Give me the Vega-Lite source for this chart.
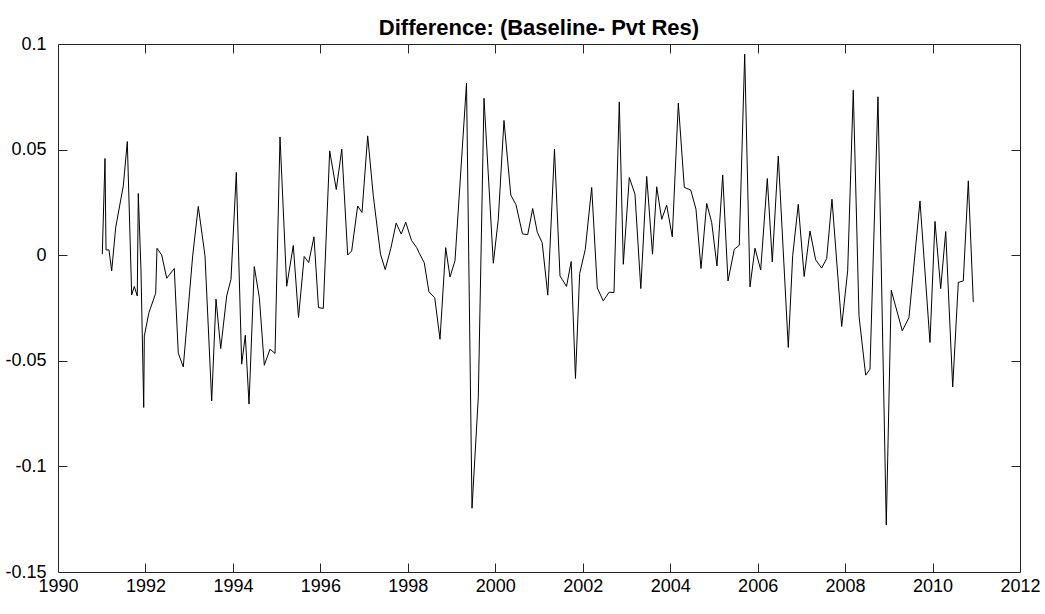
{
  "$schema": "https://vega.github.io/schema/vega-lite/v6.json",
  "width": 962,
  "height": 528,
  "autosize": "none",
  "padding": {"left": 58, "top": 44, "right": 25, "bottom": 42},
  "background": "white",
  "title": {"text": "Difference: (Baseline- Pvt Res)", "font": "Liberation Sans", "fontSize": 22, "fontWeight": "bold", "color": "black", "anchor": "middle", "offset": -5},
  "datasets": {"d": [
    {"year": 1991.013, "diff": 0.0005},
    {"year": 1991.075, "diff": 0.0458},
    {"year": 1991.098, "diff": 0.0025},
    {"year": 1991.166, "diff": 0.0025},
    {"year": 1991.228, "diff": -0.0074},
    {"year": 1991.319, "diff": 0.0131},
    {"year": 1991.493, "diff": 0.0328},
    {"year": 1991.585, "diff": 0.0538},
    {"year": 1991.685, "diff": -0.0188},
    {"year": 1991.745, "diff": -0.0148},
    {"year": 1991.813, "diff": -0.0193},
    {"year": 1991.836, "diff": 0.0292},
    {"year": 1991.898, "diff": -0.0071},
    {"year": 1991.960, "diff": -0.0721},
    {"year": 1991.974, "diff": -0.0382},
    {"year": 1992.081, "diff": -0.0271},
    {"year": 1992.234, "diff": -0.0180},
    {"year": 1992.264, "diff": 0.0033},
    {"year": 1992.371, "diff": 0.0001},
    {"year": 1992.486, "diff": -0.0109},
    {"year": 1992.659, "diff": -0.0063},
    {"year": 1992.751, "diff": -0.0464},
    {"year": 1992.865, "diff": -0.0529},
    {"year": 1993.080, "diff": -0.0003},
    {"year": 1993.208, "diff": 0.0231},
    {"year": 1993.362, "diff": -0.0003},
    {"year": 1993.515, "diff": -0.0690},
    {"year": 1993.613, "diff": -0.0208},
    {"year": 1993.721, "diff": -0.0442},
    {"year": 1993.858, "diff": -0.0193},
    {"year": 1993.956, "diff": -0.0114},
    {"year": 1994.078, "diff": 0.0392},
    {"year": 1994.201, "diff": -0.0516},
    {"year": 1994.284, "diff": -0.0379},
    {"year": 1994.368, "diff": -0.0705},
    {"year": 1994.489, "diff": -0.0054},
    {"year": 1994.604, "diff": -0.0200},
    {"year": 1994.718, "diff": -0.0521},
    {"year": 1994.848, "diff": -0.0445},
    {"year": 1994.963, "diff": -0.0465},
    {"year": 1995.077, "diff": 0.0560},
    {"year": 1995.230, "diff": -0.0147},
    {"year": 1995.381, "diff": 0.0046},
    {"year": 1995.500, "diff": -0.0295},
    {"year": 1995.630, "diff": -0.0006},
    {"year": 1995.733, "diff": -0.0035},
    {"year": 1995.854, "diff": 0.0087},
    {"year": 1995.957, "diff": -0.0248},
    {"year": 1996.067, "diff": -0.0252},
    {"year": 1996.213, "diff": 0.0494},
    {"year": 1996.364, "diff": 0.0311},
    {"year": 1996.490, "diff": 0.0502},
    {"year": 1996.625, "diff": 0.0001},
    {"year": 1996.716, "diff": 0.0020},
    {"year": 1996.853, "diff": 0.0233},
    {"year": 1996.952, "diff": 0.0202},
    {"year": 1997.082, "diff": 0.0565},
    {"year": 1997.210, "diff": 0.0282},
    {"year": 1997.375, "diff": 0.0005},
    {"year": 1997.483, "diff": -0.0068},
    {"year": 1997.611, "diff": 0.0032},
    {"year": 1997.734, "diff": 0.0152},
    {"year": 1997.849, "diff": 0.0100},
    {"year": 1997.952, "diff": 0.0156},
    {"year": 1998.084, "diff": 0.0070},
    {"year": 1998.203, "diff": 0.0036},
    {"year": 1998.263, "diff": 0.0009},
    {"year": 1998.375, "diff": -0.0035},
    {"year": 1998.484, "diff": -0.0174},
    {"year": 1998.615, "diff": -0.0201},
    {"year": 1998.736, "diff": -0.0398},
    {"year": 1998.866, "diff": 0.0036},
    {"year": 1998.965, "diff": -0.0103},
    {"year": 1999.079, "diff": -0.0026},
    {"year": 1999.342, "diff": 0.0814},
    {"year": 1999.468, "diff": -0.1198},
    {"year": 1999.612, "diff": -0.0672},
    {"year": 1999.742, "diff": 0.0743},
    {"year": 1999.955, "diff": -0.0038},
    {"year": 2000.069, "diff": 0.0170},
    {"year": 2000.199, "diff": 0.0638},
    {"year": 2000.355, "diff": 0.0285},
    {"year": 2000.474, "diff": 0.0239},
    {"year": 2000.622, "diff": 0.0101},
    {"year": 2000.741, "diff": 0.0097},
    {"year": 2000.856, "diff": 0.0221},
    {"year": 2000.961, "diff": 0.0109},
    {"year": 2001.073, "diff": 0.0059},
    {"year": 2001.201, "diff": -0.0189},
    {"year": 2001.354, "diff": 0.0502},
    {"year": 2001.480, "diff": -0.0098},
    {"year": 2001.629, "diff": -0.0148},
    {"year": 2001.736, "diff": -0.0030},
    {"year": 2001.834, "diff": -0.0584},
    {"year": 2001.930, "diff": -0.0087},
    {"year": 2002.058, "diff": 0.0027},
    {"year": 2002.205, "diff": 0.0321},
    {"year": 2002.333, "diff": -0.0155},
    {"year": 2002.470, "diff": -0.0216},
    {"year": 2002.605, "diff": -0.0175},
    {"year": 2002.715, "diff": -0.0177},
    {"year": 2002.836, "diff": 0.0726},
    {"year": 2002.928, "diff": -0.0043},
    {"year": 2003.065, "diff": 0.0368},
    {"year": 2003.195, "diff": 0.0289},
    {"year": 2003.328, "diff": -0.0158},
    {"year": 2003.463, "diff": 0.0373},
    {"year": 2003.596, "diff": 0.0005},
    {"year": 2003.692, "diff": 0.0324},
    {"year": 2003.806, "diff": 0.0170},
    {"year": 2003.920, "diff": 0.0237},
    {"year": 2004.048, "diff": 0.0087},
    {"year": 2004.186, "diff": 0.0720},
    {"year": 2004.323, "diff": 0.0321},
    {"year": 2004.469, "diff": 0.0309},
    {"year": 2004.590, "diff": 0.0218},
    {"year": 2004.705, "diff": -0.0063},
    {"year": 2004.835, "diff": 0.0245},
    {"year": 2004.949, "diff": 0.0155},
    {"year": 2005.070, "diff": -0.0051},
    {"year": 2005.201, "diff": 0.0380},
    {"year": 2005.322, "diff": -0.0122},
    {"year": 2005.466, "diff": 0.0028},
    {"year": 2005.580, "diff": 0.0047},
    {"year": 2005.704, "diff": 0.0952},
    {"year": 2005.825, "diff": -0.0150},
    {"year": 2005.939, "diff": 0.0033},
    {"year": 2006.070, "diff": -0.0070},
    {"year": 2006.221, "diff": 0.0363},
    {"year": 2006.335, "diff": -0.0032},
    {"year": 2006.472, "diff": 0.0470},
    {"year": 2006.701, "diff": -0.0437},
    {"year": 2006.801, "diff": -0.0003},
    {"year": 2006.929, "diff": 0.0241},
    {"year": 2007.064, "diff": -0.0101},
    {"year": 2007.197, "diff": 0.0115},
    {"year": 2007.327, "diff": -0.0022},
    {"year": 2007.464, "diff": -0.0061},
    {"year": 2007.579, "diff": -0.0016},
    {"year": 2007.700, "diff": 0.0265},
    {"year": 2007.922, "diff": -0.0338},
    {"year": 2008.059, "diff": -0.0074},
    {"year": 2008.187, "diff": 0.0781},
    {"year": 2008.318, "diff": -0.0287},
    {"year": 2008.471, "diff": -0.0568},
    {"year": 2008.569, "diff": -0.0540},
    {"year": 2008.752, "diff": 0.0750},
    {"year": 2008.942, "diff": -0.1278},
    {"year": 2009.056, "diff": -0.0166},
    {"year": 2009.308, "diff": -0.0358},
    {"year": 2009.461, "diff": -0.0295},
    {"year": 2009.713, "diff": 0.0257},
    {"year": 2009.941, "diff": -0.0413},
    {"year": 2010.056, "diff": 0.0160},
    {"year": 2010.186, "diff": -0.0158},
    {"year": 2010.301, "diff": 0.0112},
    {"year": 2010.461, "diff": -0.0624},
    {"year": 2010.589, "diff": -0.0129},
    {"year": 2010.703, "diff": -0.0122},
    {"year": 2010.818, "diff": 0.0352},
    {"year": 2010.932, "diff": -0.0221}
  ]},
  "data": {"name": "d"},
  "layer": [
    {
      "mark": {"type": "line", "color": "black", "strokeWidth": 1},
      "encoding": {
        "x": {"field": "year", "type": "quantitative", "scale": {"domain": [1990, 2012], "nice": false, "zero": false},
              "axis": {"orient": "bottom", "title": null, "ticks": false, "domain": true, "values": [1990,1992,1994,1996,1998,2000,2002,2004,2006,2008,2010,2012], "labelExpr": "'' + datum.value", "labelPadding": 5, "labelFlush": false, "labelOverlap": false}},
        "y": {"field": "diff", "type": "quantitative", "scale": {"domain": [-0.15, 0.1], "nice": false, "zero": false},
              "axis": {"orient": "left", "title": null, "ticks": false, "domain": true, "values": [-0.15,-0.1,-0.05,0,0.05,0.1], "labelExpr": "'' + datum.value", "labelPadding": 12, "labelFlush": false, "labelOverlap": false}}
      }
    },
    {
      "mark": {"type": "line", "strokeOpacity": 0},
      "encoding": {
        "x": {"field": "year", "type": "quantitative", "axis": {"orient": "top", "title": null, "labels": false, "ticks": false, "domain": true, "values": [1990,2012]}},
        "y": {"field": "diff", "type": "quantitative", "axis": {"orient": "right", "title": null, "labels": false, "ticks": false, "domain": true, "values": [-0.15,0.1]}}
      }
    },
    {
      "mark": {"type": "line", "strokeOpacity": 0},
      "encoding": {
        "x": {"field": "year", "type": "quantitative", "axis": {"orient": "bottom", "offset": -9, "title": null, "labels": false, "ticks": true, "tickSize": 9, "domain": false, "values": [1992,1994,1996,1998,2000,2002,2004,2006,2008,2010]}},
        "y": {"field": "diff", "type": "quantitative", "axis": {"orient": "left", "offset": -9, "title": null, "labels": false, "ticks": true, "tickSize": 9, "domain": false, "values": [-0.1,-0.05,0,0.05]}}
      }
    },
    {
      "mark": {"type": "line", "strokeOpacity": 0},
      "encoding": {
        "x": {"field": "year", "type": "quantitative", "axis": {"orient": "top", "offset": -9, "title": null, "labels": false, "ticks": true, "tickSize": 9, "domain": false, "values": [1992,1994,1996,1998,2000,2002,2004,2006,2008,2010]}},
        "y": {"field": "diff", "type": "quantitative", "axis": {"orient": "right", "offset": -9, "title": null, "labels": false, "ticks": true, "tickSize": 9, "domain": false, "values": [-0.1,-0.05,0,0.05]}}
      }
    }
  ],
  "resolve": {"axis": {"x": "independent", "y": "independent"}},
  "config": {
    "view": {"stroke": null},
    "axis": {
      "domainColor": "#262626",
      "domainWidth": 1,
      "tickColor": "#262626",
      "tickWidth": 1,
      "grid": false,
      "labelFont": "Liberation Sans",
      "labelFontSize": 18,
      "labelColor": "black"
    }
  }
}
